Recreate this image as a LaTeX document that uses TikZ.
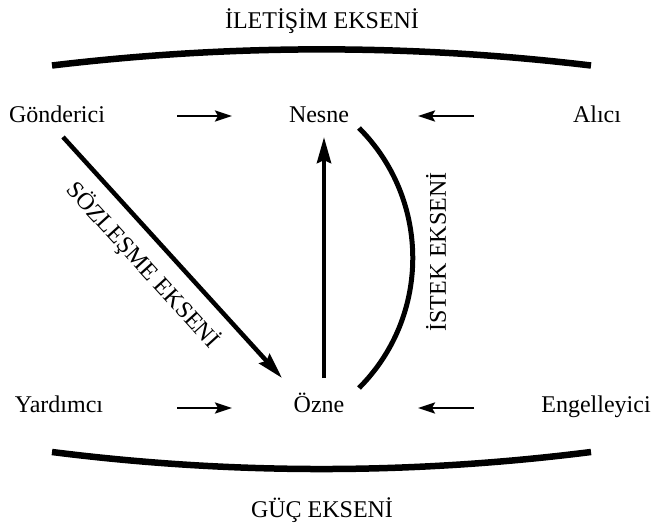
\documentclass[tikz,border=0pt]{standalone}
\usepackage{fontspec}
\setmainfont{Liberation Serif}
\usetikzlibrary{arrows.meta}
\begin{document}
\begin{tikzpicture}[x=1pt,y=-1pt,
  lbl/.style={font=\fontsize{24}{28}\selectfont, inner sep=0pt, anchor=base},
  axisline/.style={line width=6.5pt},
  smallarrow/.style={line width=2.5pt, -{Stealth[length=17pt,width=11pt,inset=3pt]}},
  bigarrow/.style={line width=4.5pt, -{Stealth[length=26pt,width=14pt,inset=3pt]}},
]
\useasboundingbox (0,0) rectangle (654,525);

% labels
\node[lbl] (ilet) at (322,28) {İLETİŞİM EKSENİ};
\node[lbl] (gond) at (57,122) {Gönderici};
\node[lbl] (nesne) at (319,122) {Nesne};
\node[lbl] (alici) at (597,122) {Alıcı};
\node[lbl] (yard) at (59,412) {Yardımcı};
\node[lbl] (ozne) at (319,412) {Özne};
\node[lbl] (engel) at (596,412) {Engelleyici};
\node[lbl] (guc) at (322,517) {GÜÇ EKSENİ};
\node[lbl, anchor=center, rotate=-47.7] (sozl) at (143,265) {SÖZLEŞME EKSENİ};
\node[lbl, anchor=center, rotate=90] (istek) at (436,252) {İSTEK EKSENİ};

% coordinates
\coordinate (t1) at (52,65.5);
\coordinate (t2) at (591,65.5);
\coordinate (b1) at (52,452);
\coordinate (b2) at (591,452);
\coordinate (ia) at (359,128);
\coordinate (ib) at (359,388);
\coordinate (a1s) at (177,116);
\coordinate (a1e) at (232,116);
\coordinate (a2s) at (474,116);
\coordinate (a2e) at (418,116);
\coordinate (a3s) at (177,408);
\coordinate (a3e) at (232,408);
\coordinate (a4s) at (474,408);
\coordinate (a4e) at (418,408);
\coordinate (d1) at (63,137);
\coordinate (d2) at (282,378);
\coordinate (v1) at (324,378);
\coordinate (v2) at (324,137);

% axes
\draw[axisline] (t1) .. controls (232,44) and (411,44) .. (t2);
\draw[axisline] (b1) .. controls (232,474.7) and (411,474.7) .. (b2);
\draw[line width=5pt] (ia) to[bend left=45] (ib);

% arrows
\draw[smallarrow] (a1s) -- (a1e);
\draw[smallarrow] (a2s) -- (a2e);
\draw[smallarrow] (a3s) -- (a3e);
\draw[smallarrow] (a4s) -- (a4e);
\draw[bigarrow] (d1) -- (d2);
\draw[bigarrow] (v1) -- (v2);
\end{tikzpicture}
\end{document}
